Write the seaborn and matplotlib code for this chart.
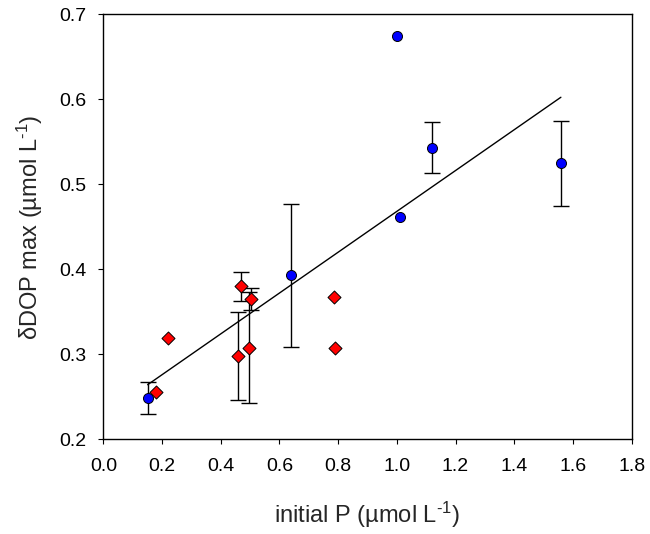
import numpy as np
import pandas as pd
import matplotlib
matplotlib.use("Agg")
import matplotlib.pyplot as plt
import seaborn as sns

# --- data ---
blue_x = [0.151, 0.638, 1.002, 1.011, 1.121, 1.559]
blue_y = [0.249, 0.393, 0.674, 0.461, 0.543, 0.525]
blue_err = [0.019, 0.084, np.nan, np.nan, 0.030, 0.050]

red_x = [0.178, 0.220, 0.458, 0.469, 0.497, 0.503, 0.786, 0.789]
red_y = [0.256, 0.319, 0.298, 0.380, 0.308, 0.365, 0.367, 0.307]
red_err = [np.nan, np.nan, 0.052, 0.017, 0.065, 0.0125, np.nan, np.nan]

x_ticks = [0.0, 0.2, 0.4, 0.6, 0.8, 1.0, 1.2, 1.4, 1.6, 1.8]
y_ticks = [0.2, 0.3, 0.4, 0.5, 0.6, 0.7]

sns.set_style("ticks")
plt.rcParams['font.family'] = ['Liberation Sans', 'DejaVu Sans']
plt.rcParams['mathtext.fontset'] = 'custom'
plt.rcParams['mathtext.rm'] = 'Liberation Sans'
plt.rcParams['mathtext.it'] = 'Liberation Sans'
plt.rcParams['mathtext.default'] = 'regular'

blue = pd.DataFrame({"x": blue_x, "y": blue_y, "err": blue_err})
red = pd.DataFrame({"x": red_x, "y": red_y, "err": red_err})
allpts = pd.concat([blue, red], ignore_index=True)

fig = plt.figure(figsize=(6.5, 5.34), dpi=100)
ax = fig.add_axes([0.159, 0.1773, 0.8127, 0.7959])

# error bars
for df in (blue, red):
    d = df.dropna()
    ax.errorbar(d["x"], d["y"], yerr=d["err"], fmt="none", ecolor="black",
                elinewidth=1.0, capsize=5.5, capthick=1.0, zorder=2)

# regression line over all points
sns.regplot(data=allpts, x="x", y="y", scatter=False, ci=None, truncate=True,
            color="black", line_kws={"linewidth": 1.0, "zorder": 3}, ax=ax)

sns.scatterplot(data=blue, x="x", y="y", marker="o", s=52, color="#0000ff",
                edgecolor="black", linewidth=0.7, zorder=4, ax=ax)
sns.scatterplot(data=red, x="x", y="y", marker="D", s=44, color="#ff0000",
                edgecolor="black", linewidth=0.7, zorder=4, ax=ax)

ax.set_xlim(0.0, 1.8)
ax.set_ylim(0.2, 0.7)
ax.set_xticks(x_ticks)
ax.set_yticks(y_ticks)
ax.set_xticklabels([f"{v:.1f}" for v in x_ticks])
ax.set_yticklabels([f"{v:.1f}" for v in y_ticks])
ax.tick_params(direction="out", length=3.6, width=0.8, labelsize=14, colors="black")
ax.tick_params(axis="x", pad=9.9)
ax.tick_params(axis="y", pad=8.4)
for sp in ax.spines.values():
    sp.set_visible(True)
    sp.set_linewidth(1.0)
    sp.set_color("black")

ax.set_xlabel(r"initial P (µmol L$^{\text{-}1}$)", fontsize=17, labelpad=18)
ax.set_ylabel(r"δDOP max (µmol L$^{\text{-}1}$)", fontsize=17, labelpad=10.5)

fig.savefig("out.png", dpi=100)
